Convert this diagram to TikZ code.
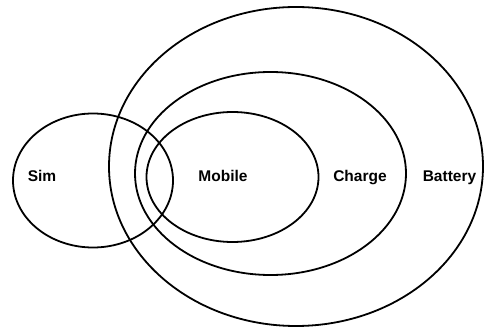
\documentclass[tikz,border=0pt]{standalone}
\usepackage{fontspec}
\setmainfont{Liberation Sans}
\usepackage{tikz}
\tikzset{setline/.style={line width=1.8pt,color=black},
         setlabel/.style={font=\bfseries\fontsize{15.5}{18}\selectfont,inner sep=0pt,anchor=base}}

\begin{document}
\begin{tikzpicture}[x=1pt,y=-1pt]
\useasboundingbox (0,0) rectangle (487,328);
%% the sets
\draw[setline] (296,166.5) ellipse (187 and 159.5);
\draw[setline] (270.5,173.5) ellipse (135.5 and 101.5);
\draw[setline] (232.5,177) ellipse (86 and 65);
\draw[setline] (93,180.5) ellipse (80 and 67);
%% names
\node[setlabel] (sim) at (42,182) {Sim};
\node[setlabel] (mobile) at (223,182) {Mobile};
\node[setlabel] (charge) at (360,182) {Charge};
\node[setlabel] (battery) at (449.5,182) {Battery};
\end{tikzpicture}
\end{document}
